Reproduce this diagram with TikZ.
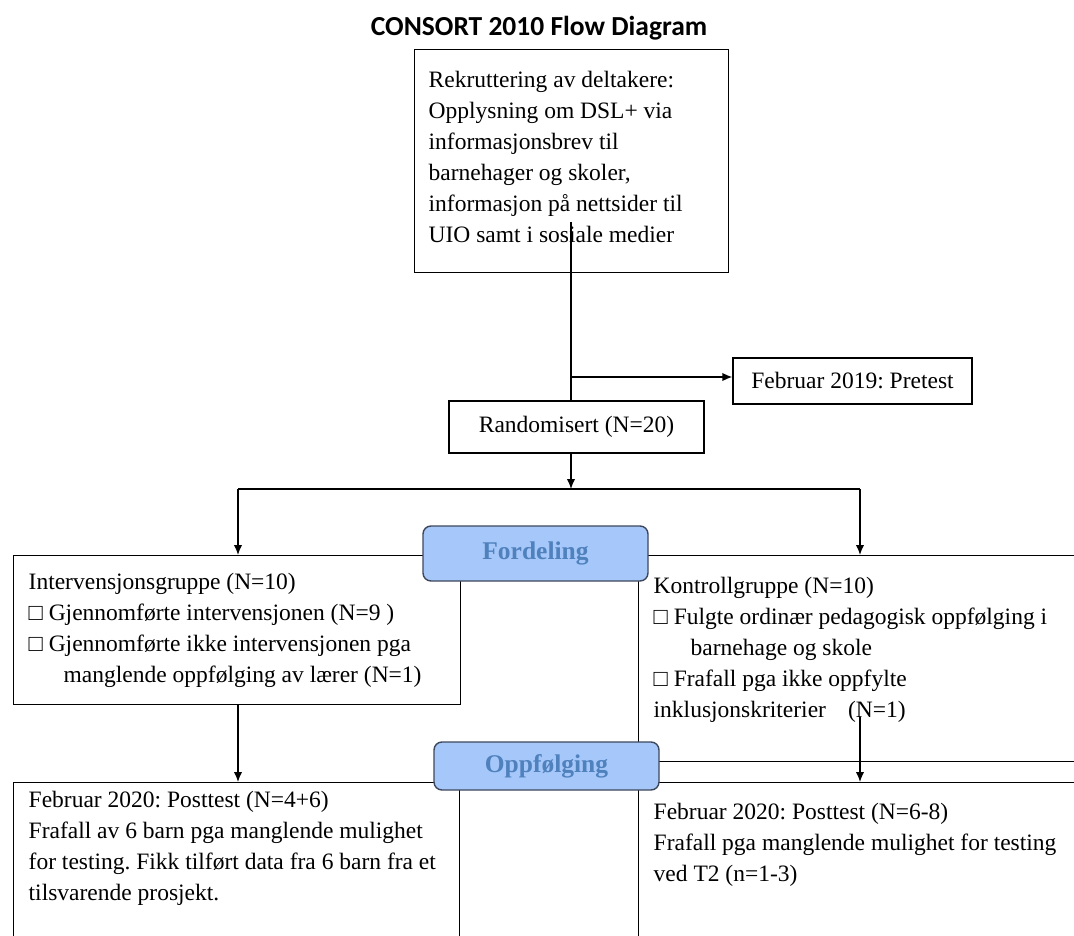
\documentclass[tikz,border=0pt]{standalone}
\usepackage{fontspec}
\setmainfont{Liberation Serif}
\newfontfamily\titlefont{Carlito}
\usetikzlibrary{arrows.meta, calc}
\definecolor{Phase-fill}{RGB}{166,199,249}
\definecolor{Phase-line}{RGB}{62,72,92}
\definecolor{Phase-text}{RGB}{79,129,189}
\frenchspacing

\begin{document}
\begin{tikzpicture}[x=1pt, y=-1pt, line width=1.4pt, >={Latex[length=10pt,width=8.5pt]}]
      \tikzset{ box/.style  ={draw=black, rectangle, inner sep=0pt, anchor=north west                                   } }
      \tikzset{ cbox/.style ={draw=black, rectangle, inner sep=0pt, font=\fontsize{23.5}{31}\selectfont                 } }
      \tikzset{ txt/.style  ={inner sep=0pt, anchor=north west, align=left, font=\fontsize{23.5}{31}\selectfont         } }
      \tikzset{ phase/.style={draw=Phase-line, fill=Phase-fill, rounded corners=8pt, text=Phase-text, inner sep=0pt,
                              font=\fontsize{25.5}{30}\selectfont\bfseries, minimum width=225pt                         } }

      \useasboundingbox (0,0) rectangle (1074,936);

      \node[inner sep=0pt, font=\titlefont\bfseries\fontsize{27.5}{33}\selectfont] (title) at (539, 28) {CONSORT 2010 Flow Diagram};

      % rekruttering
      \node[box, minimum width=314pt, minimum height=223pt] (rec_box) at (414, 49) {};
      \node[txt] (rec_txt) at (428, 70) {Rekruttering av deltakere:\\Opplysning om DSL+ via\\informasjonsbrev til\\barnehager og skoler,\\informasjon på nettsider til\\UIO samt i sosiale medier};

      \node[cbox, minimum width=239pt, minimum height=46pt] (pre_box)  at (852.5, 381) {Februar 2019: Pretest};
      \node[cbox, minimum width=255pt, minimum height=52pt] (rand_box) at (576.5, 427) {Randomisert (N=20)};

      % grupper
      \node[box, minimum width=447pt, minimum height=149pt] (int_box) at ( 13, 555) {};
      \node[box, minimum width=460pt, minimum height=206pt] (ktr_box) at (638, 555) {};

      \node[txt] (int_txt) at ( 28, 572.5) {Intervensjonsgruppe (N=10)\\□ Gjennomførte intervensjonen (N=9 )\\□ Gjennomførte ikke intervensjonen pga\\\hspace*{35pt}manglende oppfølging av lærer (N=1)};
      \node[txt] (ktr_txt) at (653, 576.5) {Kontrollgruppe (N=10)\\□ Fulgte ordinær pedagogisk oppfølging i\\\hspace*{37pt}barnehage og skole\\□ Frafall pga ikke oppfylte\\inklusjonskriterier\hspace{22pt}(N=1)};

      % posttest
      \node[box, minimum width=446pt, minimum height=180pt] (intpost_box) at ( 13, 782) {};
      \node[box, minimum width=460pt, minimum height=180pt] (ktrpost_box) at (638, 782) {};

      \node[txt] (intpost_txt) at ( 28, 790.5) {Februar 2020: Posttest (N=4+6)\\Frafall av 6 barn pga manglende mulighet\\for testing. Fikk tilført data fra 6 barn fra et\\tilsvarende prosjekt.};
      \node[txt] (ktrpost_txt) at (653, 802.5) {Februar 2020: Posttest (N=6-8)\\Frafall pga manglende mulighet for testing\\ved T2 (n=1-3)};

      \coordinate (rec_out)  at (571, 222);
      \coordinate (pre_fork) at (571, 377);
      \coordinate (split_l)  at (238, 489);
      \coordinate (split_m)  at (571, 489);
      \coordinate (split_r)  at (860, 489);
      \coordinate (ktr_out)  at (860, 717);

      \draw     (rec_out) -- (rec_out |- rand_box.north);
      \draw[->] (pre_fork) -- (pre_fork -| pre_box.west);
      \draw[->] (split_m |- rand_box.south) -- (split_m);
      \draw     (split_l) -- (split_r);
      \draw[->] (split_l) -- (split_l |- int_box.north);
      \draw[->] (split_r) -- (split_r |- ktr_box.north);
      \draw[->] (split_l |- int_box.south) -- (split_l |- intpost_box.north);
      \draw[->] (ktr_out) -- (ktr_out |- ktrpost_box.north);

      \node[phase, minimum height=55pt] (ford_lbl) at (535.5, 553.5) {Fordeling};
      \node[phase, minimum height=48pt] (oppf_lbl) at (546.5, 766.0) {Oppfølging};
\end{tikzpicture}
\end{document}
